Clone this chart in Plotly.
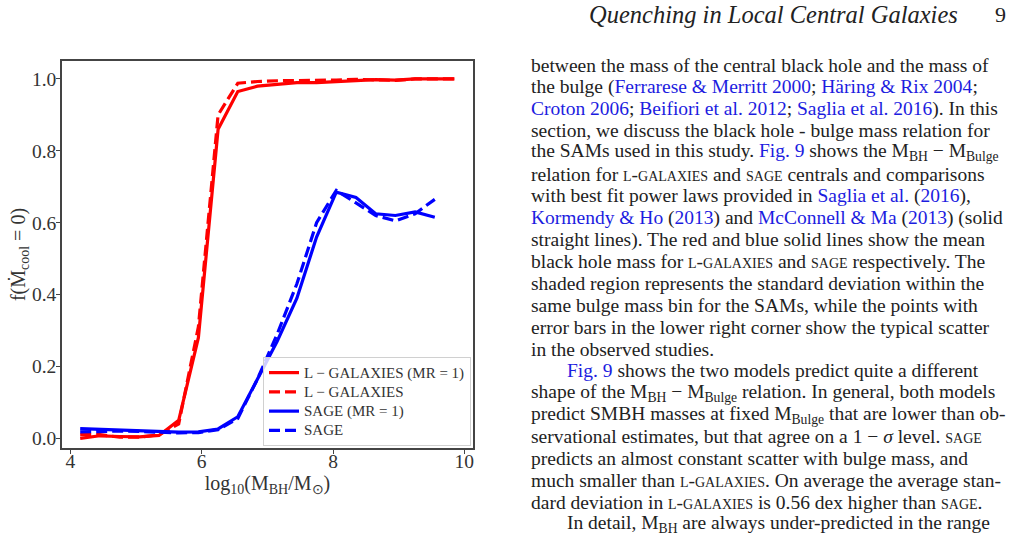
import plotly.graph_objects as go

# ---------------- data ----------------
log_mbh = [4.15, 4.45, 4.75, 5.05, 5.35, 5.65, 5.95, 6.25, 6.55, 6.85,
           7.15, 7.45, 7.75, 8.05, 8.35, 8.65, 8.95, 9.25, 9.55, 9.85]

lgal_mr1 = [0.000, 0.007, 0.005, 0.004, 0.008, 0.050, 0.280, 0.860, 0.965, 0.980,
            0.985, 0.990, 0.990, 0.993, 0.997, 0.998, 0.997, 1.000, 1.000, 1.000]
lgal = [0.010, 0.010, 0.003, 0.003, 0.010, 0.040, 0.310, 0.900, 0.988, 0.993,
        0.995, 0.995, 0.997, 0.997, 0.999, 0.998, 0.996, 1.000, 1.000, 1.000]
sage_mr1 = [0.027, 0.025, 0.024, 0.021, 0.018, 0.017, 0.018, 0.026, 0.060, 0.165,
            0.270, 0.390, 0.560, 0.685, 0.670, 0.625, 0.620, 0.630, 0.615]
sage = [0.018, 0.020, 0.020, 0.019, 0.017, 0.015, 0.016, 0.024, 0.055, 0.165,
        0.290, 0.430, 0.600, 0.690, 0.655, 0.620, 0.605, 0.625, 0.665]

series_names = ["L − GALAXIES (MR = 1)", "L − GALAXIES", "SAGE (MR = 1)", "SAGE"]
x_ticks = [4, 6, 8, 10]
y_ticks = [0.0, 0.2, 0.4, 0.6, 0.8, 1.0]
y_ticklabels = ["0.0", "0.2", "0.4", "0.6", "0.8", "1.0"]

header_title = "Quenching in Local Central Galaxies"
page_number = "9"

L = "<span style='color:#1c1ce0'>"
E = "</span>"
SC = "<span style='font-variant:small-caps'>"
body_lines = [
    "between the mass of the central black hole and the mass of",
    f"the bulge ({L}Ferrarese &amp; Merritt 2000{E}; {L}Häring &amp; Rix 2004{E};",
    f"{L}Croton 2006{E}; {L}Beifiori et al. 2012{E}; {L}Saglia et al. 2016{E}). In this",
    "section, we discuss the black hole - bulge mass relation for",
    f"the SAMs used in this study. {L}Fig. 9{E} shows the M<sub>BH</sub> − M<sub>Bulge</sub>",
    f"relation for {SC}l-galaxies{E} and {SC}sage{E} centrals and comparisons",
    f"with best fit power laws provided in {L}Saglia et al.{E} ({L}2016{E}),",
    f"{L}Kormendy &amp; Ho{E} ({L}2013{E}) and {L}McConnell &amp; Ma{E} ({L}2013{E}) (solid",
    "straight lines). The red and blue solid lines show the mean",
    f"black hole mass for {SC}l-galaxies{E} and {SC}sage{E} respectively. The",
    "shaded region represents the standard deviation within the",
    "same bulge mass bin for the SAMs, while the points with",
    "error bars in the lower right corner show the typical scatter",
    "in the observed studies.",
    f"{L}Fig. 9{E} shows the two models predict quite a different",
    "shape of the M<sub>BH</sub> − M<sub>Bulge</sub> relation. In general, both models",
    "predict SMBH masses at fixed M<sub>Bulge</sub> that are lower than ob-",
    f"servational estimates, but that agree on a 1 − <i>σ</i> level. {SC}sage{E}",
    "predicts an almost constant scatter with bulge mass, and",
    f"much smaller than {SC}l-galaxies{E}. On average the average stan-",
    f"dard deviation in {SC}l-galaxies{E} is 0.56 dex higher than {SC}sage{E}.",
    "In detail, M<sub>BH</sub> are always under-predicted in the range",
]
indented = {14, 21}

# ---------------- figure ----------------
W, H = 1014, 540
PL, PR, PT, PB = 62, 473, 61, 448  # plot area in pixels

FONT = "Liberation Serif, Times New Roman, serif"
RED, BLUE = "#ff0000", "#0000ff"
LEG_TXT = "<span style='font-size:15px'>{}</span>"

fig = go.Figure()
fig.add_trace(go.Scatter(x=log_mbh, y=lgal_mr1, mode="lines", name=LEG_TXT.format(series_names[0]),
                         line=dict(color=RED, width=3.2)))
fig.add_trace(go.Scatter(x=log_mbh, y=lgal, mode="lines", name=LEG_TXT.format(series_names[1]),
                         line=dict(color=RED, width=3.2, dash="11px,5px")))
fig.add_trace(go.Scatter(x=log_mbh[:len(sage_mr1)], y=sage_mr1, mode="lines",
                         name=LEG_TXT.format(series_names[2]),
                         line=dict(color=BLUE, width=3.2)))
fig.add_trace(go.Scatter(x=log_mbh[:len(sage)], y=sage, mode="lines",
                         name=LEG_TXT.format(series_names[3]),
                         line=dict(color=BLUE, width=3.2, dash="11px,5px")))


def px_x(px):
    return (px - PL) / (PR - PL)


def px_y(py):
    return (PB - py) / (PB - PT)


annotations = []
annotations.append(dict(text=f"<i>{header_title}</i>", x=px_x(587), y=px_y(15),
                        xref="paper", yref="paper", xanchor="left", yanchor="middle",
                        showarrow=False, font=dict(family=FONT, size=24.5, color="#222")))
annotations.append(dict(text=page_number, x=px_x(1008), y=px_y(15),
                        xref="paper", yref="paper", xanchor="right", yanchor="middle",
                        showarrow=False, font=dict(family=FONT, size=22, color="#222")))
for i, line in enumerate(body_lines):
    x0 = 565 if i in indented else 529
    annotations.append(dict(text=line, x=px_x(x0), y=px_y(65 + 21.85 * i),
                            xref="paper", yref="paper", xanchor="left", yanchor="middle",
                            showarrow=False,
                            font=dict(family=FONT, size=19.5, color="#222")))

fig.update_layout(
    width=W, height=H,
    margin=dict(l=PL, r=W - PR, t=PT, b=H - PB, pad=0),
    paper_bgcolor="white", plot_bgcolor="white",
    font=dict(family=FONT, color="#333"),
    showlegend=True,
    legend=dict(x=px_x(263), y=px_y(357), xanchor="left", yanchor="top",
                bgcolor="rgba(255,255,255,0.8)", bordercolor="#d0d0d0", borderwidth=1,
                font=dict(family=FONT, size=12.5, color="#333"),
                tracegroupgap=0, itemwidth=30),
    annotations=annotations,
    xaxis=dict(range=[3.873, 10.132], tickvals=x_ticks, ticks="outside", ticklen=4,
               tickwidth=1.2, tickcolor="#444", showline=True, linecolor="#444",
               linewidth=1.5, mirror=True, showgrid=False, zeroline=False,
               ticklabelstandoff=-9,
               tickfont=dict(family=FONT, size=19.5, color="#333"),
               title=dict(text="log<sub>10</sub>(M<sub>BH</sub>/M<sub>⊙</sub>)",
                          font=dict(family=FONT, size=20, color="#333"), standoff=0)),
    yaxis=dict(range=[-0.027, 1.05], tickvals=y_ticks, ticktext=y_ticklabels,
               ticks="outside", ticklen=4, tickwidth=1.2, tickcolor="#444",
               showline=True, linecolor="#444", linewidth=1.5, mirror=True,
               showgrid=False, zeroline=False, ticklabelstandoff=-4,
               tickfont=dict(family=FONT, size=19.5, color="#333"),
               title=dict(text="f(Ṁ<sub>cool</sub> = 0)",
                          font=dict(family=FONT, size=20, color="#333"), standoff=0)),
)

fig.write_html("out.html", config={"displayModeBar": False},
               post_script="document.body.style.margin='0';")
